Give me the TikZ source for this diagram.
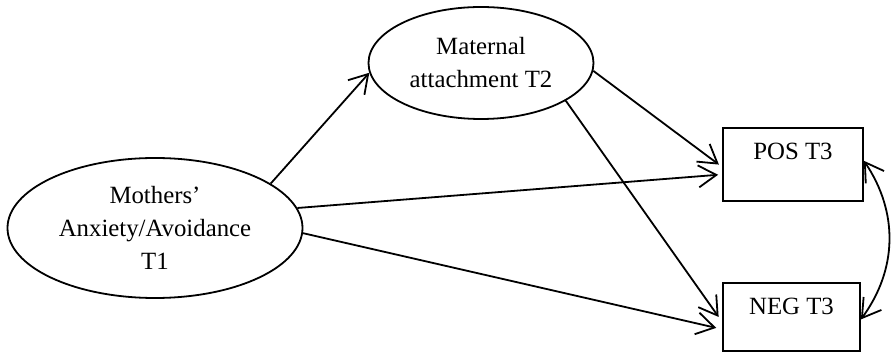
\documentclass[tikz,border=0pt]{standalone}
\usepackage{fontspec}
\setmainfont{Liberation Serif}
\usetikzlibrary{shapes.geometric,arrows.meta}
\begin{document}
\begin{tikzpicture}[x=0.5pt,y=-0.5pt,line width=0.9pt,
  >={Straight Barb[length=9pt,width=11pt,line width=0.9pt]},
  latent/.style={draw, ellipse, align=center, inner sep=0pt, font=\fontsize{12.4}{16.5}\selectfont},
  observed/.style={draw, rectangle, align=center, inner xsep=0pt, inner ysep=0pt, text height=16pt, font=\fontsize{12.4}{16.5}\selectfont}]
\useasboundingbox (0,0) rectangle (891,352);

\node[latent, minimum width=147.5pt, minimum height=70pt] (mom) at (155,228) {Mothers'\\Anxiety/Avoidance\\T1};
\node[latent, minimum width=112.5pt, minimum height=56pt] (att) at (481,63) {Maternal\\attachment T2};
\node[observed, minimum width=70pt, text depth=20.5pt] (pos) at (793,164.5) {POS T3};
\node[observed, minimum width=68.5pt, text depth=18pt] (neg) at (791.5,317) {NEG T3};

\draw[->] (mom.21) -- (att.185);
\draw[->, shorten >=2pt] (mom.8) -- (pos.188);
\draw[->, shorten >=3pt] (mom.-2) -- (neg.190);
\draw[->, shorten >=2pt] (att.-4) -- (pos.182);
\draw[->, shorten >=3pt] (att.-24) -- (neg.184);
\draw[<->] (pos.3) to[bend left=35] (neg.-2);
\end{tikzpicture}
\end{document}
